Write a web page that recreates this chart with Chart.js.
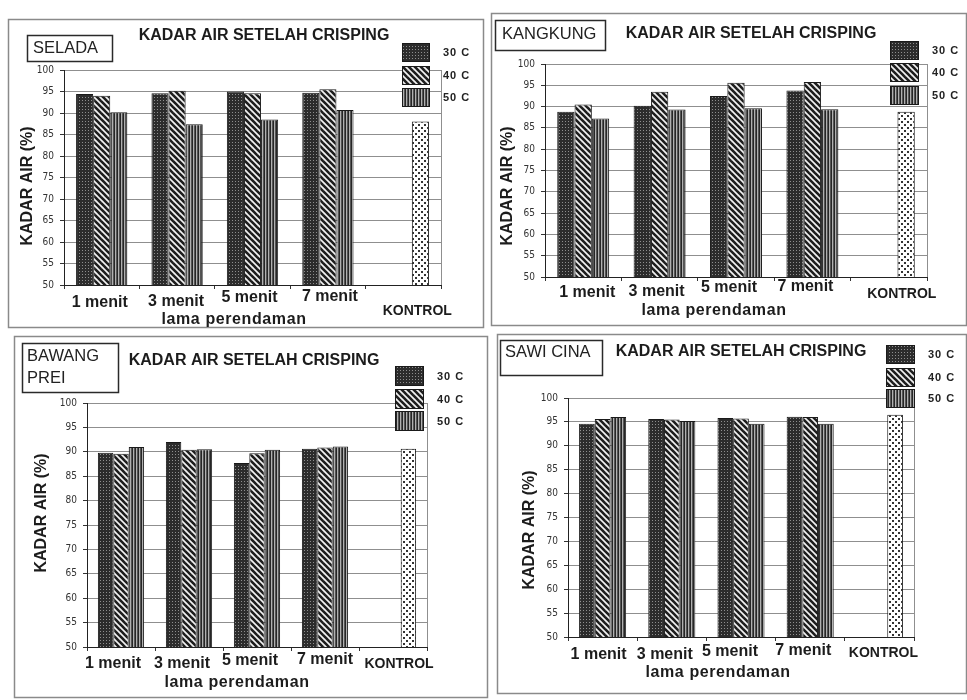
<!DOCTYPE html>
<html>
<head>
<meta charset="utf-8">
<script src="https://cdn.jsdelivr.net/npm/chart.js@4.4.1/dist/chart.umd.min.js"></script>
<style>
  html, body { margin: 0; padding: 0; background: #fff; }
  #wrap { position: relative; width: 967px; height: 700px; overflow: hidden; background: #fff; }
  #wrap canvas { position: absolute; left: 0; top: 0; }
</style>
</head>
<body>
<div id="wrap">
  <canvas id="c1" width="967" height="700"></canvas>
  <canvas id="c2" width="967" height="700"></canvas>
  <canvas id="c3" width="967" height="700"></canvas>
  <canvas id="c4" width="967" height="700"></canvas>
</div>
<script>
// Categories (soaking time) and series (crisping temperature)
const categories = ['1 menit', '3 menit', '5 menit', '7 menit', 'KONTROL'];
const seriesLabels = ['30 C', '40 C', '50 C'];
const chartTitle = 'KADAR AIR SETELAH CRISPING';
const yTitle = 'KADAR AIR (%)';
const xTitle = 'lama perendaman';
const yMin = 50, yMax = 100, yStep = 5;

// Water content (%) per vegetable
const seladaT30 = [94.4, 94.6, 95.0, 94.7];
const seladaT40 = [94.0, 95.2, 94.6, 95.5];
const seladaT50 = [90.2, 87.4, 88.5, 90.7];
const seladaKontrol = 88.0;

const kangkungT30 = [88.8, 90.2, 92.5, 93.8];
const kangkungT40 = [90.5, 93.5, 95.6, 95.8];
const kangkungT50 = [87.2, 89.3, 89.6, 89.4];
const kangkungKontrol = 88.8;

const bawangT30 = [89.8, 92.0, 87.7, 90.6];
const bawangT40 = [89.6, 90.4, 89.7, 90.9];
const bawangT50 = [91.0, 90.5, 90.4, 91.1];
const bawangKontrol = 90.6;

const sawiT30 = [94.6, 95.6, 95.8, 96.1];
const sawiT40 = [95.6, 95.5, 95.7, 96.0];
const sawiT50 = [96.0, 95.2, 94.6, 94.6];
const sawiKontrol = 96.5;

// Panel placement on the page
const Y_AXIS_W = 30, X_AXIS_H = 6;
const panels = [
  { canvas: 'c1', name: ['SELADA'], t30: seladaT30, t40: seladaT40, t50: seladaT50, kontrol: seladaKontrol,
    box: [8, 19, 484, 328], plot: [64, 70, 441, 285], title: [264, 36],
    nameBox: [27, 35, 112, 61], nameX: 33, nameYs: [48.5],
    legend: { x: 402, w: 27, h: 18, tops: [43, 66, 88], labelX: 443 },
    yTitle: [28, 186], xLabelY: [303, 302, 298, 297, 311], xLabelDx: [-2, -1, -3, 2, 14], xTitle: [234, 320] },
  { canvas: 'c2', name: ['KANGKUNG'], t30: kangkungT30, t40: kangkungT40, t50: kangkungT50, kontrol: kangkungKontrol,
    box: [491, 13, 967, 326], plot: [545, 64, 927, 277], title: [751, 34],
    nameBox: [495, 20, 605, 50], nameX: 502, nameYs: [34],
    legend: { x: 890, w: 28, h: 18, tops: [41, 63, 86], labelX: 932 },
    yTitle: [508, 186], xLabelY: [293, 292, 288, 287, 294], xLabelDx: [4, -3, -7, -7, 13], xTitle: [714, 311] },
  { canvas: 'c3', name: ['BAWANG', 'PREI'], t30: bawangT30, t40: bawangT40, t50: bawangT50, kontrol: bawangKontrol,
    box: [14, 336, 488, 698], plot: [87, 403, 427, 647], title: [254, 361],
    nameBox: [22, 343, 118, 392], nameX: 27, nameYs: [356, 378],
    legend: { x: 395, w: 28, h: 19, tops: [366, 389, 411], labelX: 437 },
    yTitle: [42, 513], xLabelY: [664, 664, 661, 660, 664], xLabelDx: [-8, -7, -7, 0, 6], xTitle: [237, 683] },
  { canvas: 'c4', name: ['SAWI CINA'], t30: sawiT30, t40: sawiT40, t50: sawiT50, kontrol: sawiKontrol,
    box: [497, 334, 967, 694], plot: [568, 398, 914, 637], title: [741, 352],
    nameBox: [500, 340, 602, 375], nameX: 505, nameYs: [352],
    legend: { x: 886, w: 28, h: 18, tops: [345, 368, 389], labelX: 928 },
    yTitle: [530, 530], xLabelY: [655, 655, 652, 651, 653], xLabelDx: [-4, -7, -11, -7, 4], xTitle: [718, 673] }
];

// Hatch fills for the bars
function makePatterns(ctx) {
  const tile = (w, h, draw) => {
    const c = document.createElement('canvas');
    c.width = w; c.height = h;
    draw(c.getContext('2d'));
    return ctx.createPattern(c, 'repeat');
  };
  const dense = tile(3, 3, g => {
    g.fillStyle = '#2c2c2c'; g.fillRect(0, 0, 3, 3);
    g.fillStyle = '#8e8e8e'; g.fillRect(1, 1, 1, 1);
  });
  const diag = tile(6, 6, g => {
    g.fillStyle = '#f2f2f2'; g.fillRect(0, 0, 6, 6);
    g.strokeStyle = '#1e1e1e'; g.lineWidth = 2.6;
    for (let k = -6; k <= 6; k += 6) {
      g.beginPath(); g.moveTo(k - 1, -1); g.lineTo(k + 7, 7); g.stroke();
    }
  });
  const vert = tile(3, 1, g => {
    g.fillStyle = '#262626'; g.fillRect(0, 0, 1, 1);
    g.fillStyle = '#b0b0b0'; g.fillRect(1, 0, 1, 1);
    g.fillStyle = '#555555'; g.fillRect(2, 0, 1, 1);
  });
  const dots = tile(6, 6, g => {
    g.fillStyle = '#ffffff'; g.fillRect(0, 0, 6, 6);
    g.fillStyle = '#333333';
    g.fillRect(1, 1, 2, 2);
    g.fillRect(4, 4, 2, 2);
  });
  return { dense, diag, vert, dots };
}

const FONT = '"Liberation Sans", Arial, Helvetica, sans-serif';

function makeDecor(p, pats) {
  const swatches = [pats.dense, pats.diag, pats.vert];
  return {
    id: 'decor_' + p.canvas,
    afterDraw(chart) {
      const ctx = chart.ctx;
      const a = chart.chartArea;
      ctx.save();

      // panel frame
      const [bx0, by0, bx1, by1] = p.box;
      ctx.strokeStyle = '#8a8a8a';
      ctx.lineWidth = 1.5;
      ctx.strokeRect(bx0 + 0.5, by0 + 0.5, bx1 - bx0 - 1, by1 - by0 - 1);

      // right edge of the plot area
      ctx.strokeStyle = '#8f8f8f';
      ctx.lineWidth = 1;
      const rx = Math.round(a.right) + 0.5;
      ctx.beginPath(); ctx.moveTo(rx, a.top); ctx.lineTo(rx, a.bottom); ctx.stroke();

      // title
      ctx.fillStyle = '#1c1c1c';
      ctx.textAlign = 'center';
      ctx.textBaseline = 'middle';
      ctx.font = 'bold 16px ' + FONT;
      ctx.fillText(chartTitle, p.title[0], p.title[1]);

      // vegetable name box
      const [nx0, ny0, nx1, ny1] = p.nameBox;
      ctx.fillStyle = '#fff';
      ctx.fillRect(nx0, ny0, nx1 - nx0, ny1 - ny0);
      ctx.strokeStyle = '#2a2a2a';
      ctx.lineWidth = 1.5;
      ctx.strokeRect(nx0 + 0.5, ny0 + 0.5, nx1 - nx0, ny1 - ny0);
      ctx.fillStyle = '#222';
      ctx.textAlign = 'left';
      ctx.font = '16.5px ' + FONT;
      p.name.forEach((line, i) => ctx.fillText(line, p.nameX, p.nameYs[i]));

      // legend
      const lg = p.legend;
      seriesLabels.forEach((lab, i) => {
        const top = lg.tops[i];
        ctx.fillStyle = swatches[i];
        ctx.fillRect(lg.x, top, lg.w, lg.h);
        ctx.strokeStyle = '#1a1a1a';
        ctx.lineWidth = 1;
        ctx.strokeRect(lg.x + 0.5, top + 0.5, lg.w, lg.h);
        ctx.fillStyle = '#222';
        ctx.font = 'bold 11px ' + FONT;
        ctx.letterSpacing = '1px';
        ctx.fillText(lab, lg.labelX, top + lg.h / 2 + 1);
        ctx.letterSpacing = '0px';
      });

      // y axis title
      ctx.save();
      ctx.translate(p.yTitle[0], p.yTitle[1]);
      ctx.rotate(-Math.PI / 2);
      ctx.textAlign = 'center';
      ctx.fillStyle = '#1c1c1c';
      ctx.font = 'bold 16px ' + FONT;
      ctx.fillText(yTitle, 0, 0);
      ctx.restore();

      // category labels, placed from the x scale
      const xs = chart.scales.x;
      ctx.textAlign = 'center';
      ctx.fillStyle = '#1c1c1c';
      categories.forEach((lab, i) => {
        const x = xs.getPixelForValue(i) + p.xLabelDx[i];
        ctx.font = (i === 4 ? 'bold 14px ' : 'bold 16px ') + FONT;
        ctx.fillText(lab, x, p.xLabelY[i]);
      });

      // x axis title
      ctx.font = 'bold 16px ' + FONT;
      ctx.letterSpacing = '0.6px';
      ctx.fillText(xTitle, p.xTitle[0], p.xTitle[1]);
      ctx.letterSpacing = '0px';

      ctx.restore();
    }
  };
}

panels.forEach(p => {
  const canvas = document.getElementById(p.canvas);
  const ctx = canvas.getContext('2d');
  const pats = makePatterns(ctx);
  const barStyle = { borderColor: '#1a1a1a', borderWidth: 1 };

  new Chart(ctx, {
    type: 'bar',
    data: {
      labels: categories,
      datasets: [
        Object.assign({ label: seriesLabels[0], data: [...p.t30, null], backgroundColor: pats.dense }, barStyle),
        Object.assign({ label: seriesLabels[1], data: [...p.t40, null], backgroundColor: pats.diag }, barStyle),
        Object.assign({ label: seriesLabels[2], data: [...p.t50, p.kontrol],
          backgroundColor: [pats.vert, pats.vert, pats.vert, pats.vert, pats.dots] }, barStyle)
      ]
    },
    options: {
      responsive: false,
      animation: false,
      devicePixelRatio: 1,
      layout: {
        padding: {
          left: p.plot[0] - Y_AXIS_W,
          top: p.plot[1],
          right: 967 - p.plot[2],
          bottom: 700 - p.plot[3] - X_AXIS_H
        }
      },
      datasets: { bar: { categoryPercentage: 0.68, barPercentage: 1.0 } },
      plugins: { legend: { display: false }, tooltip: { enabled: false } },
      scales: {
        x: {
          offset: true,
          grid: { display: true, drawOnChartArea: false, drawTicks: true, tickLength: 4, tickColor: '#333', offset: true },
          border: { display: true, color: '#222', width: 1 },
          ticks: { display: false },
          afterFit: s => { s.height = X_AXIS_H; }
        },
        y: {
          min: yMin, max: yMax,
          ticks: { stepSize: yStep, color: '#333', padding: 6,
                   font: { family: '"Liberation Sans Narrow", "DejaVu Sans Condensed", Arial, sans-serif', size: 10 } },
          grid: { color: '#8f8f8f', lineWidth: 1, tickLength: 4, tickColor: '#333' },
          border: { display: true, color: '#222', width: 1 },
          afterFit: s => { s.width = Y_AXIS_W; }
        }
      }
    },
    plugins: [makeDecor(p, pats)]
  });
});
</script>
</body>
</html>
